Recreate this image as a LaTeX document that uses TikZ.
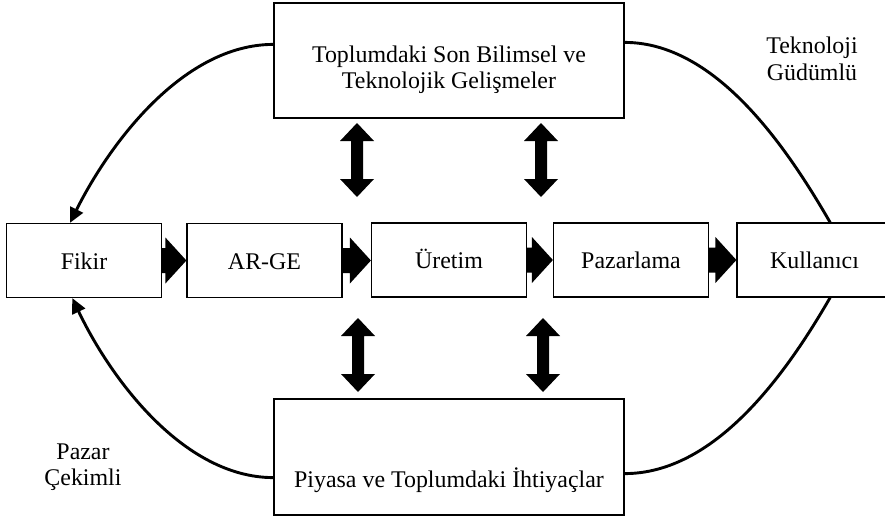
\documentclass[tikz,border=0pt]{standalone}
\usepackage{fontspec}
\setmainfont{Liberation Serif}
\usetikzlibrary{arrows.meta,calc}

\newcommand\mainfs{\fontsize{23.9}{26.5}\selectfont}

\tikzset{
  stage/.style={draw, line width=1.2pt, minimum width=155pt, minimum height=74pt,
                inner sep=0pt, font=\mainfs, text height=20pt, text depth=3pt},
  panel/.style={draw, line width=1.2pt, minimum width=350pt, minimum height=115pt,
                inner sep=0pt},
  caption/.style={align=center, font=\mainfs, inner sep=0pt},
  loop/.style={line width=2.9pt},
  loophead/.style={-{Triangle[length=15pt,width=14pt]}}
}

% solid block arrow from the east side of #1 to the west side of #2
\newcommand\flowarrow[2]{%
  \fill let \p1=(#1.east), \p2=(#2.west) in
    (\x1,\y1+12.5pt) -- (\x2-21pt,\y1+12.5pt) -- (\x2-21pt,\y1+23pt) -- (\x2,\y1)
    -- (\x2-21pt,\y1-23pt) -- (\x2-21pt,\y1-12.5pt) -- (\x1,\y1-12.5pt) -- cycle;}

% solid two-headed vertical block arrow, #1 upper tip, #2 lower tip
\newcommand\dualarrow[2]{%
  \fill let \p1=(#1), \p2=(#2) in
    (\x1,\y1) -- (\x1+17pt,\y1-18pt) -- (\x1+6pt,\y1-18pt) -- (\x1+6pt,\y2+18pt)
    -- (\x1+17pt,\y2+18pt) -- (\x1,\y2) -- (\x1-17pt,\y2+18pt) -- (\x1-6pt,\y2+18pt)
    -- (\x1-6pt,\y1-18pt) -- (\x1-17pt,\y1-18pt) -- cycle;}

\begin{document}
\begin{tikzpicture}[x=1pt,y=-1pt]
  \fill[white] (0,0) rectangle (885,519);
  \useasboundingbox (0,0) rectangle (885,519);

  % upper and lower panels
  \node[panel] (sci) at (449,60.5) {};
  \node[caption] (scitext) at (449,70) {Toplumdaki Son Bilimsel ve\\Teknolojik Gelişmeler};
  \node[panel, minimum height=116pt] (need) at (449,457) {};
  \node[caption, anchor=base] (needtext) at (449,487) {Piyasa ve Toplumdaki İhtiyaçlar};

  % process chain
  \node[stage] (fikir) at (84,260.5) {Fikir};
  \node[stage] (arge)  at (264.5,260.5) {AR-GE};
  \node[stage] (uretim) at (449,260) {Üretim};
  \node[stage] (pazar) at (631,260) {Pazarlama};
  \node[stage] (user)  at (814.5,260) {Kullanıcı};

  \flowarrow{fikir}{arge}
  \flowarrow{arge}{uretim}
  \flowarrow{uretim}{pazar}
  \flowarrow{pazar}{user}

  % two-way links between the panels and the chain
  \coordinate (up1a) at (357,123); \coordinate (up1b) at (357,197);
  \coordinate (up2a) at (541,123); \coordinate (up2b) at (541,197);
  \coordinate (dn1a) at (358,318); \coordinate (dn1b) at (358,392);
  \coordinate (dn2a) at (543,318); \coordinate (dn2b) at (543,392);
  \dualarrow{up1a}{up1b}
  \dualarrow{up2a}{up2b}
  \dualarrow{dn1a}{dn1b}
  \dualarrow{dn2a}{dn2b}

  % loop attachment points
  \coordinate (sciL) at ($(sci.north west)+(0,42)$);
  \coordinate (sciR) at ($(sci.north east)+(0,40)$);
  \coordinate (needL) at ($(need.south west)+(0,-38)$);
  \coordinate (needR) at ($(need.south east)+(0,-42)$);
  \coordinate (fikirT) at ($(fikir.north west)!0.41!(fikir.north east)$);
  \coordinate (fikirB) at ($(fikir.south west)!0.425!(fikir.south east)$);
  \coordinate (userT) at ($(user.north west)!0.6!(user.north east)$);
  \coordinate (userB) at ($(user.south west)!0.6!(user.south east)$);

  \draw[loop, loophead] (sciL) .. controls +(-90,0) and +(40,-80) .. (fikirT);
  \draw[loop] (sciR) .. controls +(90,0) and +(-45,-78) .. (userT);
  \draw[loop, loophead] (needL) .. controls +(-90,0) and +(38,80) .. (fikirB);
  \draw[loop] (needR) .. controls +(90,0) and +(-45,78) .. (userB);

  % loop captions
  \node[caption] (techdriven) at (812,59) {Teknoloji\\Güdümlü};
  \node[caption] (marketpull) at (83,467) {Pazar\\Çekimli};
\end{tikzpicture}
\end{document}
